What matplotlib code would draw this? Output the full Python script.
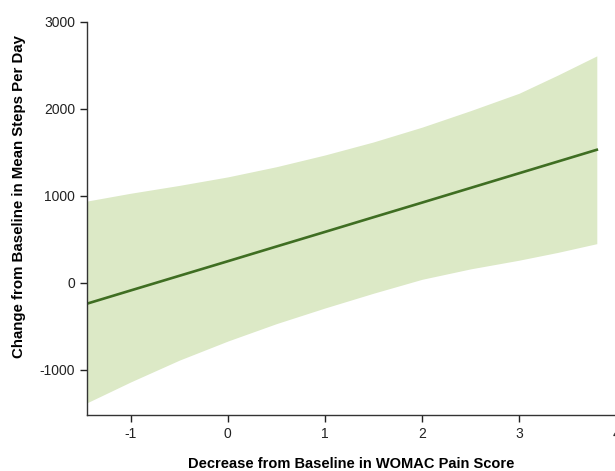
import matplotlib
matplotlib.use("Agg")
import matplotlib.pyplot as plt

plt.rcParams['font.family'] = ['Liberation Sans', 'DejaVu Sans']
plt.rcParams['axes.unicode_minus'] = False

# fitted line and confidence band
x_pts = [-1.45, -1, -0.5, 0, 0.5, 1, 1.5, 2, 2.5, 3, 3.4, 3.8]
fit = [-240, -88, 80, 248, 417, 585, 754, 922, 1091, 1260, 1395, 1530]
upper = [940, 1030, 1120, 1218, 1335, 1470, 1620, 1790, 1980, 2180, 2390, 2610]
lower = [-1380, -1140, -890, -670, -470, -290, -120, 40, 160, 260, 350, 450]

xticks = [-1, 0, 1, 2, 3, 4]
yticks = [-1000, 0, 1000, 2000, 3000]

fig = plt.figure(figsize=(6.15, 4.71), dpi=100)
ax = fig.add_axes([0.1415, 0.119, 0.8605, 0.8344])

ax.fill_between(x_pts, lower, upper, color='#dce9c6', linewidth=0)
ax.plot(x_pts, fit, color='#3f6e22', linewidth=1.9)

ax.set_xlim(-1.45, 4.0)
ax.set_ylim(-1520, 3000)
ax.set_xticks(xticks)
ax.set_yticks(yticks)
ax.tick_params(labelsize=10, length=5, width=1, colors='#222222')

for s in ['top', 'right']:
    ax.spines[s].set_visible(False)
for s in ['left', 'bottom']:
    ax.spines[s].set_color('#333333')
    ax.spines[s].set_linewidth(1)

ax.set_xlabel('Decrease from Baseline in WOMAC Pain Score', fontsize=10.5,
              fontweight='bold', labelpad=12)
ax.set_ylabel('Change from Baseline in Mean Steps Per Day', fontsize=10.8,
              fontweight='bold')
ax.yaxis.set_label_coords(-0.115, 0.555)

fig.savefig('out.png', dpi=100)
